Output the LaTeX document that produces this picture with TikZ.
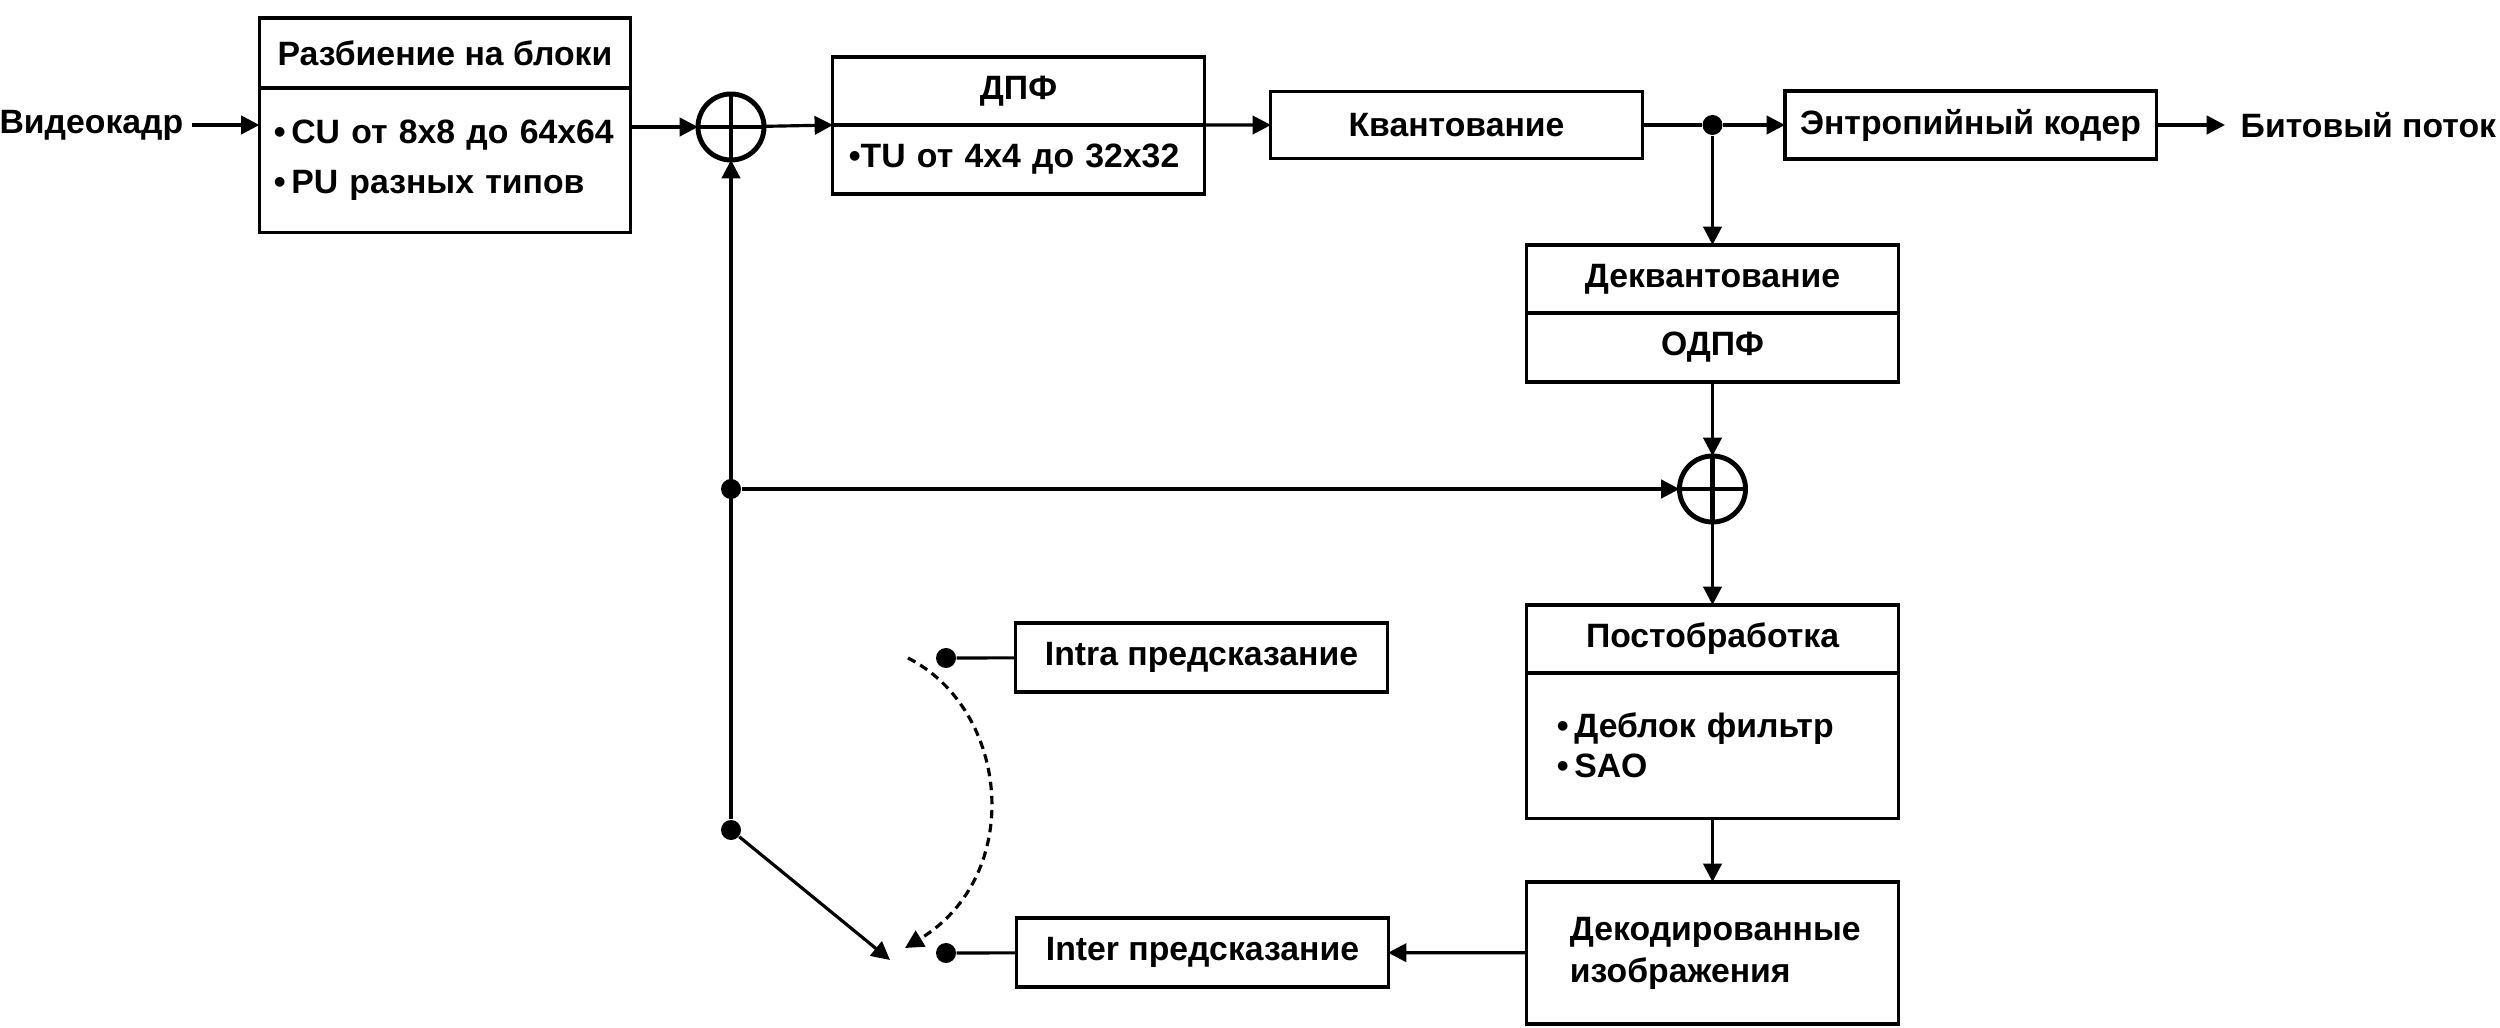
\documentclass[tikz,border=0pt]{standalone}
\usepackage{fontspec}
\setmainfont{Liberation Sans}
\usepackage{tikz}
\usetikzlibrary{arrows.meta, positioning}
\tikzstyle{line} = [draw, -{Triangle[length=5.2pt,width=5.2pt]}, line width=0.9pt]

\begin{document}
\begin{tikzpicture}[x=0.01cm, y=-0.01cm,
  txt/.style={font=\fontsize{9.6pt}{11.5pt}\selectfont\bfseries},
  blk/.style={txt, draw, line width=0.9pt, outer sep=0pt, inner sep=0pt, minimum width=3.71cm, minimum height=0.68cm},
  sum/.style={draw, circle, line width=1.4pt, minimum size=0.66cm, inner sep=0pt, outer sep=0pt},
  dot/.style={circle, fill, minimum size=0.2cm, inner sep=0pt}]

  \useasboundingbox (0,0) rectangle (2500,1028);

  % top row
  \node[txt, anchor=east, inner xsep=0.08cm] (vid) at (192,125) {Видеокадр};
  \node[blk, minimum height=0.7cm] (splitT) at (445,53) {Разбиение на блоки};
  \node[blk, below=0pt of splitT, minimum height=1.44cm, text width=3.42cm, align=left, inner xsep=0.14cm,
        font=\fontsize{9.6pt}{14.2pt}\selectfont\bfseries] (splitB) {•\,CU от 8x8 до 64x64\\•\,PU разных типов};
  \node[sum] (s1) at (731,127) {};
  \draw[line width=1.4pt] (s1.north) -- (s1.south) (s1.west) -- (s1.east);
  \node[blk] (dpfT) at (1018.5,91) {ДПФ};
  \node[blk, below=0pt of dpfT, minimum height=0.69cm, text width=3.39cm, align=left, inner xsep=0.16cm] (dpfB) {•TU от 4x4 до 32x32};
  \node[blk, minimum height=0.67cm] (kv) at (1456.5,125) {Квантование};
  \node[dot] (d1) at (1712.5,125) {};
  \node[blk] (ent) at (1970.5,125) {Энтропийный кодер};
  \node[txt, anchor=west, inner xsep=0.15cm] (bit) at (2225,125) {Битовый поток};

  % right column
  \node[blk] (dqT) at (1712.5,279) {Деквантование};
  \node[blk, below=0pt of dqT, minimum height=0.69cm] (dqB) {ОДПФ};
  \node[sum] (s2) at (1712.5,489) {};
  \draw[line width=1.4pt] (s2.north) -- (s2.south) (s2.west) -- (s2.east);
  \node[blk] (poT) at (1712.5,639) {Постобработка};
  \node[blk, below=0pt of poT, minimum height=1.45cm, text width=3.11cm, align=left, inner xsep=0.3cm,
        font=\fontsize{9.6pt}{11.4pt}\selectfont\bfseries] (poB) {•\,Деблок фильтр\\•\,SAO};
  \node[blk, minimum height=1.42cm, text width=2.85cm, align=left, inner xsep=0.43cm,
        font=\fontsize{9.6pt}{11.9pt}\selectfont\bfseries] (dec) at (1712.5,953) {Декодированные\\изображения};

  % prediction
  \node[blk, minimum height=0.69cm] (intra) at (1201.5,657.5) {Intra предсказание};
  \node[blk, minimum height=0.69cm] (inter) at (1202.5,952.5) {Inter предсказание};
  \node[dot] (dIntra) at (946,658) {};
  \node[dot] (dInter) at (946,953) {};
  \node[dot] (dA) at (731,489) {};
  \node[dot] (dB) at (731,830) {};
  \coordinate (sw) at (890,960);
  \coordinate (cA) at (908,658);
  \coordinate (cB) at (905,948);

  \draw[line] (vid) -- (vid -| splitB.west);
  \draw[line] (s1 -| splitB.east) -- (s1);
  \draw[line] (s1) -- (dpfT.south west);
  \draw[line] (dpfT.south east) -- (kv);
  \draw[line width=0.9pt] (kv) -- (d1);
  \draw[line] (d1) -- (ent);
  \draw[line] (ent) -- (bit);
  \draw[line] (d1) -- (dqT);
  \draw[line] (dqB) -- (s2);
  \draw[line] (s2) -- (poT);
  \draw[line] (poB) -- (dec);
  \draw[line] (dec) -- (inter);
  \draw[line width=0.9pt] (inter) -- (dInter);
  \draw[line width=0.9pt] (intra) -- (dIntra);
  \draw[line] (dB) -- (s1);
  \draw[line] (dA) -- (s2);
  \draw[line] (dB) -- (sw);
  \draw[line, dash pattern=on 2.4pt off 1.6pt] (cA) .. controls (1010,710) and (1025,875) .. (cB);

\end{tikzpicture}
\end{document}
